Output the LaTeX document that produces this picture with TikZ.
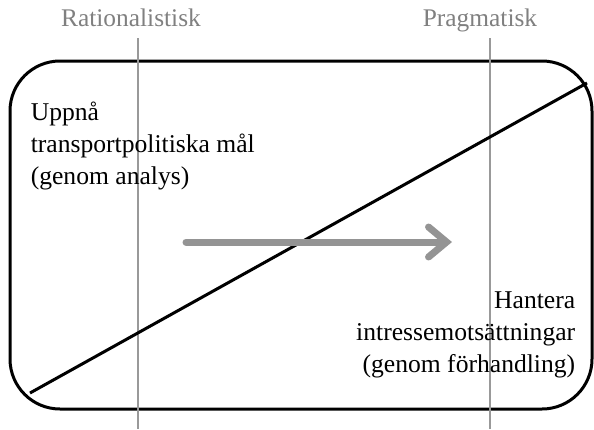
\documentclass[tikz,border=0pt]{standalone}
\usepackage{fontspec}
\setmainfont{Liberation Serif}
\usetikzlibrary{positioning, calc, arrows.meta}

\begin{document}
\begin{tikzpicture}[x=0.5pt, y=-0.5pt, thick,
		axel/.style={draw=black!40, line width=1pt},
		rubrik/.style={text=black!50, font=\fontsize{12.7}{14}\selectfont},
		mal/.style={font=\fontsize{12.8}{16}\selectfont, inner sep=0pt},
		pil/.style={draw=black!42, line width=3.5pt, line cap=round, -{Straight Barb[length=9pt, width=15pt, line cap=round]}} ]
	\useasboundingbox (0,0) rectangle (594,429);
	
	%Ramen:
	\draw[line width=1.5pt, rounded corners=25pt] (10,61) rectangle (592,409);
	
	%Axlar:
	\coordinate (R1) at (138,38);
	\coordinate (R2) at (138,429);
	\coordinate (P1) at (490,38);
	\coordinate (P2) at (490,429);
	\node[rubrik, anchor=base] (rat) at (131,26) {Rationalistisk};
	\node[rubrik, anchor=base] (prag) at (480,26) {Pragmatisk};
	\draw[axel] (R1) -- (R2);
	\draw[axel] (P1) -- (P2);
	
	%Diagonal:
	\coordinate (D1) at (30,393);
	\coordinate (D2) at (587,83);
	\draw[line width=1.5pt] (D1) -- (D2);
	
	%Texter:
	\node[mal, anchor=base west, align=left] (upp) at (30,184)
		{Uppnå\\transportpolitiska mål\\(genom analys)};
	\node[mal, anchor=base east, align=right] (han) at (576,372)
		{Hantera\\intressemotsättningar\\(genom förhandling)};
	
	%Pilen:
	\coordinate (A1) at (186,242);
	\coordinate (A2) at (452,242);
	\draw[pil] (A1) -- (A2);
\end{tikzpicture}
\end{document}
